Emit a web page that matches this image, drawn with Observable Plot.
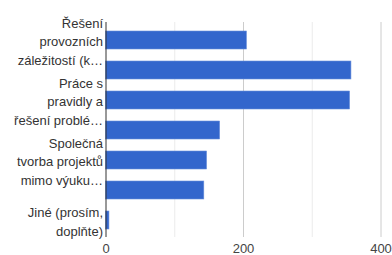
<!DOCTYPE html>
<html><head><meta charset="utf-8">
<script src="https://cdn.jsdelivr.net/npm/d3@7"></script>
<script src="https://cdn.jsdelivr.net/npm/@observablehq/plot@0.6"></script>
<style>body{margin:0;background:#fff}</style>
</head><body><div id="chart"></div>
<script>
const categories = ["Řešení provozních záležitostí (k…", "Kategorie 2", "Práce s pravidly a řešení problé…", "Kategorie 4", "Společná tvorba projektů mimo výuku…", "Kategorie 6", "Jiné (prosím, doplňte)"];
const tickLabels = ["Řešení\nprovozních\nzáležitostí (k…", "", "Práce s\npravidly a\nřešení problé…", "", "Společná\ntvorba projektů\nmimo výuku…", "", "Jiné (prosím,\ndoplňte)"];
const values = [205, 357, 355, 166, 147, 143, 5];
const xTicks = [0, 200, 400];
const gridMajor = [200, 400];
const gridMinor = [100, 300];

const data = categories.map((c, i) => ({cat: c, value: values[i]}));

// split wrapped tick labels into single lines, grouped by vertical offset
const lineStep = 18.3;
const lines = [];
categories.forEach((c, i) => {
  if (!tickLabels[i]) return;
  const parts = tickLabels[i].split("\n");
  parts.forEach((t, k) => lines.push({cat: c, text: t, off: (k - (parts.length - 1) / 2) * lineStep + 1.8}));
});
const offsets = [...new Set(lines.map(d => d.off))];
const labelMarks = offsets.map(o => Plot.text(lines.filter(d => d.off === o), {
  x: 0, y: "cat", text: "text", textAnchor: "end", dx: -3, dy: o, fontSize: 13, fill: "#333"
}));

const chart = Plot.plot({
  width: 392,
  height: 255,
  marginTop: 22,
  marginBottom: 18,
  marginLeft: 105.5,
  marginRight: 11.5,
  style: {fontFamily: "Arial, 'Liberation Sans', sans-serif", fontSize: "13px", color: "#333", background: "#fff"},
  x: {domain: [0, 400], axis: null, label: null},
  y: {domain: categories, axis: null, label: null, paddingInner: 0.4, paddingOuter: 0.2},
  marks: [
    Plot.ruleX(gridMinor, {stroke: "#ebebeb", strokeWidth: 1}),
    Plot.ruleX(gridMajor, {stroke: "#cccccc", strokeWidth: 1}),
    Plot.barX(data, {x: "value", y: "cat", fill: "#3366cc", stroke: "#6a8fdb", strokeWidth: 0.6}),
    Plot.ruleX([0], {stroke: "#333333", strokeWidth: 1}),
    ...labelMarks,
    Plot.axisX(xTicks, {tickSize: 0, tickPadding: 6, fontSize: 13, fill: "#444", label: null, tickFormat: d => String(d)})
  ]
});
document.getElementById("chart").appendChild(chart);
</script>
</body></html>
